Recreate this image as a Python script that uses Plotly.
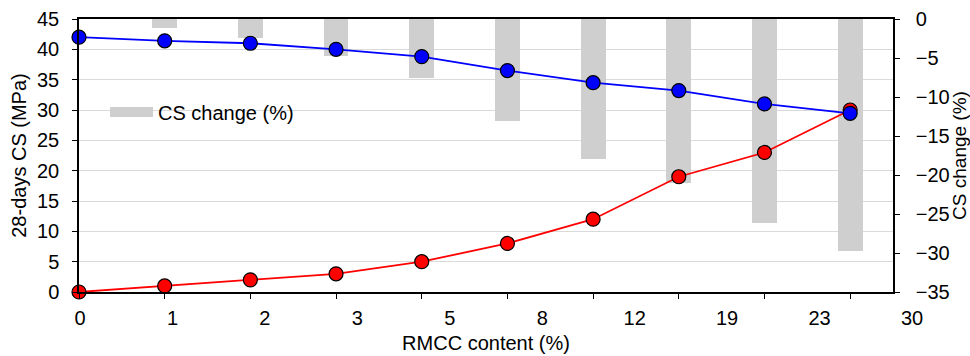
import plotly.graph_objects as go

# Mixes along the x axis and their RMCC content labels
rmcc_labels = ["0", "1", "2", "3", "5", "8", "12", "19", "23", "30"]
mix_index = list(range(len(rmcc_labels)))

# 28-day compressive strength (MPa)
cs_mpa = [42.0, 41.4, 41.0, 40.0, 38.8, 36.5, 34.5, 33.2, 31.0, 29.45]
# RMCC content of each mix (%)
rmcc_content = [0, 1, 2, 3, 5, 8, 12, 19, 23, 30]
# Change of compressive strength relative to the reference mix (%)
cs_change = [0, -1.2, -2.4, -4.8, -7.6, -13.1, -17.9, -21.0, -26.2, -29.8]

FONT = "Liberation Sans, Arial, Helvetica, sans-serif"
W, H = 970, 356
L, R, T, B = 79, 40, 19, 64
pw = W - L - R
main_end = 814 / pw
lab_start, lab_end = 1 / pw, 833 / pw

fig = go.Figure()

# CS change bars on the base (right-hand) axis so they sit beneath the lines
fig.add_trace(go.Bar(
    x=mix_index, y=cs_change, width=0.29, marker=dict(color="#cfcfcf", line_width=0),
    xaxis="x", yaxis="y", showlegend=False, name="CS change (%)",
))
# legend swatch for the bars
fig.add_trace(go.Scatter(
    x=[None], y=[None], mode="lines", line=dict(color="#cfcfcf", width=12),
    xaxis="x", yaxis="y", name="CS change (%)", showlegend=True,
))

marker_style = dict(size=14, line=dict(color="black", width=1.2))
fig.add_trace(go.Scatter(
    x=mix_index, y=rmcc_content, mode="lines+markers", name="RMCC content",
    line=dict(color="#ff0000", width=1.8), marker=dict(color="#ff0000", **marker_style),
    xaxis="x", yaxis="y2", showlegend=False, cliponaxis=False,
))
fig.add_trace(go.Scatter(
    x=mix_index, y=cs_mpa, mode="lines+markers", name="28-days CS",
    line=dict(color="#0000ff", width=1.8), marker=dict(color="#0000ff", **marker_style),
    xaxis="x", yaxis="y2", showlegend=False, cliponaxis=False,
))
# carrier for the label axis
fig.add_trace(go.Scatter(x=[None], y=[None], xaxis="x3", yaxis="y3", showlegend=False))

FS = 20
tick_font = dict(family=FONT, size=FS, color="black")
title_font = dict(family=FONT, size=FS, color="black")

fig.update_layout(
    width=W, height=H,
    margin=dict(l=L, r=R, t=T, b=B, autoexpand=False),
    paper_bgcolor="white", plot_bgcolor="rgba(0,0,0,0)",
    font=dict(family=FONT, size=FS, color="black"),
    bargap=0,
    xaxis=dict(
        domain=[0, main_end], range=[0, 9.5], anchor="y", automargin=False,
        tickvals=mix_index, showticklabels=False,
        ticks="outside", ticklen=5, tickcolor="black", tickwidth=1,
        showline=True, linecolor="black", linewidth=1.5, mirror=True,
        showgrid=False, zeroline=False,
        title=dict(text="RMCC content (%)", font=title_font, standoff=38),
    ),
    xaxis3=dict(
        domain=[lab_start, lab_end], range=[0, 9], anchor="y3", automargin=False,
        tickvals=mix_index, ticktext=rmcc_labels, tickfont=tick_font,
        ticks="", showline=False, showgrid=False, zeroline=False,
        ticklabelstandoff=12,
    ),
    yaxis3=dict(domain=[0, 1], anchor="x3", visible=False, range=[0, 1], automargin=False),
    yaxis=dict(
        side="right", anchor="x", range=[-35, 0], dtick=5, automargin=False,
        ticks="outside", ticklen=5, tickcolor="black", tickwidth=1,
        showline=True, linecolor="black", linewidth=1.5,
        showgrid=False, zeroline=False, tickfont=tick_font,
        ticklabelstandoff=12,
        title=dict(text="CS change (%)", font=dict(family=FONT, size=19, color="black"),
                   standoff=0),
    ),
    yaxis2=dict(
        side="left", overlaying="y", anchor="x", range=[0, 45], dtick=5, automargin=False,
        ticks="outside", ticklen=5, tickcolor="black", tickwidth=1,
        showline=True, linecolor="black", linewidth=1.5,
        showgrid=True, gridcolor="#dadada", gridwidth=1.2, zeroline=False,
        tickfont=tick_font, ticklabelstandoff=9,
        title=dict(text="28-days CS (MPa)", font=title_font, standoff=5),
    ),
    legend=dict(
        x=(105 - L) / pw, y=(292 - 112) / 273, xanchor="left", yanchor="middle",
        bgcolor="rgba(0,0,0,0)", borderwidth=0, font=dict(family=FONT, size=FS),
        itemwidth=43,
    ),
)

fig.write_html("out.html")
